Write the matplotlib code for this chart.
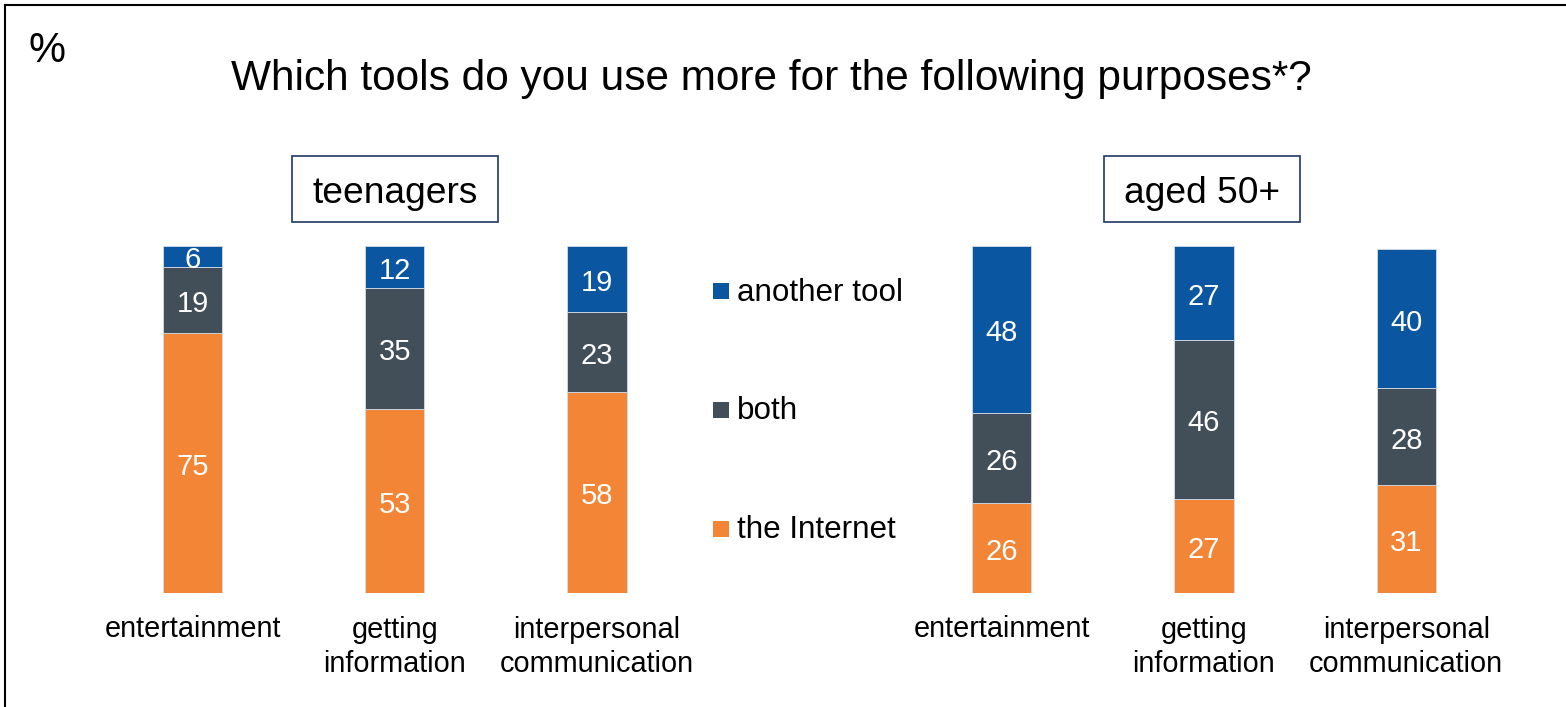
import matplotlib.pyplot as plt
from matplotlib.patches import Rectangle
from matplotlib.lines import Line2D
from matplotlib import transforms

plt.rcParams['font.family'] = ['Liberation Sans', 'DejaVu Sans']

# survey answers, % of respondents
categories = ['entertainment', 'getting\ninformation', 'interpersonal\ncommunication']
groups = ['teenagers', 'aged 50+']
series = ['the Internet', 'both', 'another tool']
colors = ['#F38536', '#434F58', '#0A56A1']

internet = [75, 53, 58, 26, 27, 31]
both = [19, 35, 23, 26, 46, 28]
another = [6, 12, 19, 48, 27, 40]
positions = [0, 1, 2, 4, 5, 6]

W, H = 1566, 707
fig = plt.figure(figsize=(W / 100, H / 100), dpi=100)
ax = fig.add_axes([91.35 / W, (H - 593) / H, 1416.1 / W, 347 / H])
ax.set_xlim(-0.5, 6.5)
ax.set_ylim(0, 100)
ax.axis('off')

bottom = [0] * len(positions)
for vals, col in zip([internet, both, another], colors):
    ax.bar(positions, vals, width=0.293, bottom=bottom, color=col,
           edgecolor='#d5dce6', linewidth=0.6)
    for x, b, v in zip(positions, bottom, vals):
        ax.annotate(str(v), (x, b + v / 2), xytext=(0, -8.6), textcoords='offset points',
                    ha='center', va='baseline', color='white', fontsize=21)
    bottom = [b + v for b, v in zip(bottom, vals)]

# category names under the bars (baseline given for the last line)
trans = transforms.blended_transform_factory(ax.transData, fig.transFigure)
for x, lab in zip(positions, categories * 2):
    base = 637 + 34.7 * lab.count('\n')
    ax.text(x, (H - base) / H, lab, transform=trans, ha='center', va='baseline',
            fontsize=20.8, linespacing=1.27, multialignment='center')

# group captions in framed boxes
box_px = [(291.7, 206.6), (1104, 196)]
for (x0, w), name in zip(box_px, groups):
    fig.patches.append(Rectangle((x0 / W, (H - 221.7) / H), w / W, 65.7 / H,
                                 transform=fig.transFigure, fill=False,
                                 edgecolor='#1F3864', linewidth=1.2))
    fig.text((x0 + w / 2) / W, (H - 203.3) / H, name, ha='center', va='baseline',
             fontsize=26.7)

# legend, top entry first
leg_rows = [(282.7, 300.7), (401.7, 419.3), (520.7, 537.7)]
for (top, base), name, col in zip(leg_rows, series[::-1], colors[::-1]):
    fig.patches.append(Rectangle((712.7 / W, (H - top - 16) / H), 16 / W, 16 / H,
                                 transform=fig.transFigure, facecolor=col,
                                 edgecolor='none'))
    fig.text(737 / W, (H - base) / H, name, ha='left', va='baseline', fontsize=22.6)

fig.text(771.5 / W, (H - 90) / H, 'Which tools do you use more for the following purposes*?',
         ha='center', va='baseline', fontsize=30.5)
fig.text(28 / W, (H - 62) / H, '%', ha='left', va='baseline', fontsize=30)

# frame lines on top and left
fig.add_artist(Line2D([5.3 / W, 1], [(H - 5.3) / H] * 2, transform=fig.transFigure,
                      color='black', linewidth=1.5))
fig.add_artist(Line2D([5.3 / W] * 2, [0, (H - 5.3) / H], transform=fig.transFigure,
                      color='black', linewidth=1.5))

fig.savefig('out.png', dpi=100)
